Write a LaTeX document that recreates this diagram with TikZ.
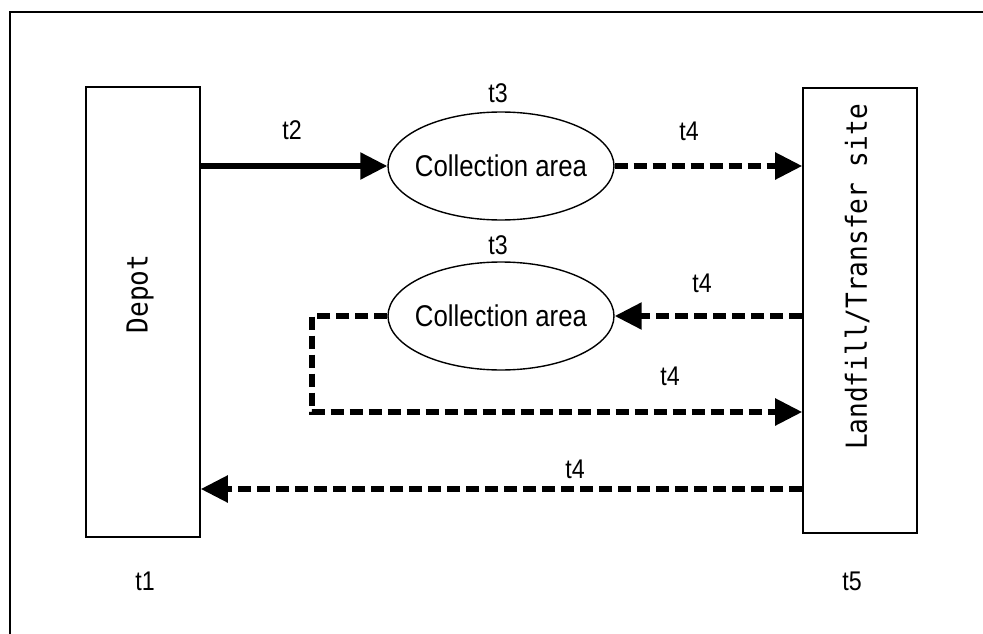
\documentclass[tikz,border=0pt]{standalone}
\usepackage{fontspec}
\setmainfont{Liberation Sans}[FakeStretch=0.86]
\newfontfamily\monofam{DejaVu Sans Mono}[FakeStretch=0.9]
\usetikzlibrary{arrows.meta,shapes.geometric}
\begin{document}
\begin{tikzpicture}[x=1pt,y=-1pt,
  box/.style={draw, line width=1.6pt, minimum width=114pt, inner sep=0pt},
  area/.style={ellipse, draw, line width=1.4pt, minimum width=226pt, minimum height=108pt, inner sep=0pt, font=\fontsize{30}{34}\selectfont},
  lbl/.style={font=\fontsize{27}{30}\selectfont, inner sep=0pt},
  vlbl/.style={font=\monofam\fontsize{29}{32}\selectfont, rotate=90, inner sep=0pt},
  flow/.style={line width=5.4pt, -{Triangle[length=27pt,width=26pt]}},
  dflow/.style={flow, dash pattern=on 13pt off 6pt},
]
\useasboundingbox (0,0) rectangle (983,634);
\draw[line width=2pt] (10,640) -- (10,12) -- (990,12);

\node[box, minimum height=450pt] (depot) at (143,312) {};
\node[vlbl] (depotlbl) at (140,294) {Depot};
\node[box, minimum height=445pt] (site) at (860,310.5) {};
\node[vlbl] (sitelbl) at (857,277) {Landfill/Transfer site};

\node[area] (ca1) at (501,166) {\makebox[0pt]{Collection area}};
\node[area] (ca2) at (501,316) {\makebox[0pt]{Collection area}};

\node[lbl] (t3a) at (498,93) {t3};
\node[lbl] (t2) at (292,130) {t2};
\node[lbl] (t4a) at (689,131) {t4};
\node[lbl] (t3b) at (498,245) {t3};
\node[lbl] (t4b) at (702,283) {t4};
\node[lbl] (t4c) at (670,376) {t4};
\node[lbl] (t4d) at (575,469) {t4};
\node[lbl] (t1) at (145,581) {t1};
\node[lbl] (t5) at (852,581) {t5};

\coordinate (bend) at (312,412);
\coordinate (ret) at (500,489);

\draw[flow] (depot.east |- ca1.west) -- (ca1.west);
\draw[dflow] (ca1.east) -- (site.west |- ca1.east);
\draw[dflow] (site.west |- ca2.east) -- (ca2.east);
\draw[dflow] (ca2.west) -- (ca2.west -| bend) -- (bend) -- (bend -| site.west);
\draw[dflow] (site.west |- ret) -- (depot.east |- ret);
\end{tikzpicture}
\end{document}
